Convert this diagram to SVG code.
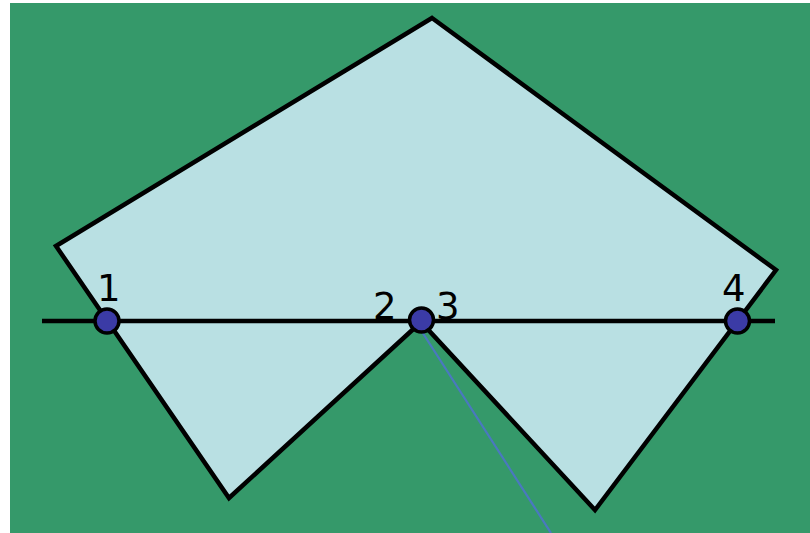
<svg xmlns="http://www.w3.org/2000/svg" width="810" height="533" viewBox="0 0 810 533">
<style>
.lbl{font-family:"DejaVu Sans","Liberation Sans",sans-serif;font-size:37px;fill:#000}
.pt{fill:#3b3ba6;stroke:#000;stroke-width:3.5}
</style>
<rect x="0" y="0" width="810" height="533" fill="#ffffff"/>
<rect x="10" y="3" width="800" height="530" fill="#35996a"/>
<g id="shape">
<polygon points="432,18 776,270 595,510 421,322 229,498 56,246" fill="#b9e0e3" stroke="#000" stroke-width="4.5" stroke-linejoin="miter"/>
</g>
<g id="connectors">
<line x1="42" y1="321" x2="775" y2="321" stroke="#000" stroke-width="4.5"/>
<line x1="417" y1="324" x2="551" y2="533" stroke="#4a78c0" stroke-width="2.2"/>
</g>
<g id="p1"><circle class="pt" cx="107" cy="321" r="12"/><text class="lbl" x="97" y="301">1</text></g>
<g id="p23"><circle class="pt" cx="421.5" cy="320" r="12"/><text class="lbl" x="373" y="319">2</text><text class="lbl" x="436" y="319">3</text></g>
<g id="p4"><circle class="pt" cx="737.5" cy="321" r="12"/><text class="lbl" x="722" y="301">4</text></g>
</svg>
